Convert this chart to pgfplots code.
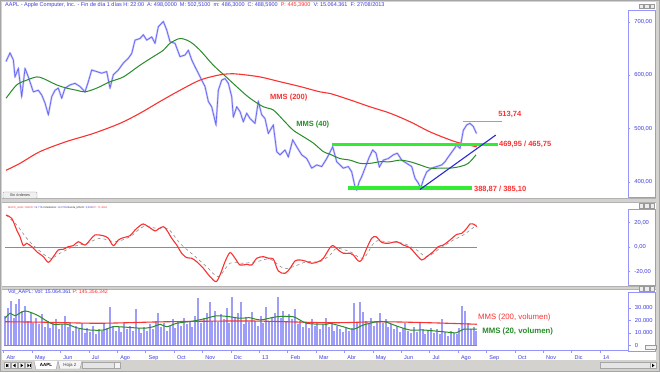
\documentclass[border=0pt]{standalone}
\usepackage{pgfplots}
\pgfplotsset{compat=1.18}
\usepackage{pgfplotstable}
\usepackage{fontspec}
\setmainfont{Liberation Sans}
\definecolor{pricec}{RGB}{100,100,245}
\definecolor{mmsg}{RGB}{40,140,40}
\definecolor{mmsr}{RGB}{250,50,50}
\definecolor{band}{RGB}{50,235,50}
\definecolor{axblue}{RGB}{150,150,250}
\definecolor{lblblue}{RGB}{60,60,225}
\definecolor{trend}{RGB}{40,40,215}
\definecolor{volc}{RGB}{158,158,248}
\definecolor{winbg}{RGB}{212,210,206}
\definecolor{sig}{RGB}{140,140,140}

\pgfplotstableread{
m p
0.085 626
0.225 642
0.342 629
0.401 597
0.518 613
0.637 560
0.754 613
0.870 597
1.046 569
1.222 572
1.342 563
1.458 548
1.574 526
1.694 560
1.810 572
1.926 576
2.046 557
2.162 576
2.338 582
2.514 585
2.690 579
2.866 569
2.982 588
3.102 610
3.278 607
3.454 604
3.630 607
3.746 576
3.863 601
4.039 610
4.215 623
4.391 632
4.511 641
4.627 666
4.803 669
4.919 676
5.039 666
5.215 672
5.331 660
5.447 691
5.623 701
5.743 685
5.859 663
6.035 660
6.211 635
6.387 638
6.504 647
6.623 629
6.739 616
6.856 604
6.975 591
7.092 579
7.208 551
7.327 541
7.479 507
7.560 572
7.680 591
7.796 594
7.912 585
8.032 560
8.088 522
8.208 541
8.324 532
8.440 513
8.560 529
8.676 519
8.852 510
8.968 551
9.088 526
9.204 519
9.320 491
9.496 507
9.616 457
9.732 451
9.908 460
10.025 447
10.180 479
10.320 466
10.496 451
10.673 444
10.849 426
11.025 432
11.201 429
11.377 444
11.588 466
11.729 438
11.845 432
11.961 426
12.137 429
12.257 419
12.373 391
12.433 385
12.525 401
12.609 410
12.725 426
12.877 447
12.996 460
13.113 454
13.229 428
13.370 441
13.546 444
13.722 451
13.863 454
14.018 441
14.194 435
14.370 429
14.486 407
14.602 398
14.687 388
14.778 404
14.898 419
15.074 426
15.250 429
15.426 432
15.542 438
15.658 447
15.835 460
15.954 469
16.070 463
16.187 497
16.306 507
16.423 510
16.539 504
16.651 491
}\price

\pgfplotstableread{
m v
0.085 557
0.461 582
0.813 591
1.165 597
1.398 594
1.870 582
2.222 576
2.574 572
2.866 569
3.278 576
3.746 588
4.215 597
4.803 619
5.271 635
5.623 647
5.859 660
6.211 669
6.563 663
6.915 647
7.384 619
7.856 596
8.324 573
8.676 557
9.144 541
9.496 535
9.849 516
10.201 497
10.553 485
10.905 473
11.257 457
11.493 452
11.845 444
12.197 441
12.549 435
12.901 435
13.254 438
13.606 438
13.958 441
14.310 438
14.662 432
15.014 426
15.366 426
15.718 426
16.070 429
16.363 435
16.634 451
}\mmsforty

\pgfplotstableread{
m v
0.085 422
0.577 435
1.282 457
2.222 476
3.158 491
4.099 510
4.803 529
5.507 551
6.211 572
6.915 591
7.620 601
8.077 603
8.324 602
9.028 597
9.732 588
10.437 579
11.141 569
11.493 566
12.197 554
12.901 541
13.606 529
14.310 513
15.014 494
15.718 479
16.070 473
16.658 466
}\mmsdos

\pgfplotstableread{
m v
0.085 26.1
0.285 23.4
0.461 13.9
0.577 8.4
0.694 1.1
0.813 3.0
0.989 0.3
1.165 -3.8
1.398 -7.9
1.574 -12.5
1.750 -7.9
1.926 -2.4
2.102 -1.9
2.278 0.3
2.454 1.1
2.630 4.3
2.866 1.6
3.042 5.7
3.218 9.8
3.511 9.2
3.687 7.1
3.863 1.1
4.039 5.7
4.215 7.6
4.451 9.2
4.627 13.9
4.803 17.4
4.919 18.8
5.095 16.6
5.331 13.1
5.447 14.7
5.623 16.6
5.743 13.9
5.919 7.1
6.095 1.6
6.271 -5.1
6.447 -8.7
6.623 -9.2
6.799 -12.0
7.032 -17.4
7.268 -24.2
7.479 -28.3
7.620 -22.9
7.796 -12.0
7.972 -4.6
8.148 -9.2
8.324 -14.7
8.560 -14.1
8.736 -14.7
8.912 -9.2
9.144 -7.9
9.320 -9.2
9.496 -9.8
9.673 -19.6
9.908 -21.5
10.085 -17.4
10.261 -11.4
10.437 -10.6
10.613 -11.4
10.849 -13.3
11.081 -12.0
11.257 -9.2
11.493 -0.5
11.609 1.1
11.785 -2.4
11.961 -5.1
12.197 -5.1
12.313 -6.5
12.489 -11.4
12.609 -10.6
12.785 -1.1
12.961 7.1
13.113 8.4
13.313 3.8
13.546 3.0
13.842 4.3
14.074 1.6
14.310 -0.6
14.486 -5.1
14.722 -10.6
14.898 -7.9
15.130 -3.8
15.306 0.3
15.482 1.6
15.718 5.7
15.954 10.3
16.130 11.1
16.306 15.2
16.423 18.8
16.563 18.5
16.658 16.6
}\macd

\pgfplotstableread{
m v
0.085 26.1
0.461 18.0
0.813 7.1
1.165 -1.1
1.634 -9.2
1.986 -5.1
2.454 0.3
2.926 3.0
3.394 7.1
3.923 4.3
4.451 8.4
4.919 16.6
5.391 15.2
5.799 14.7
6.211 3.0
6.680 -6.5
7.151 -16.1
7.560 -24.2
7.972 -13.3
8.440 -13.3
8.912 -12.0
9.380 -9.8
9.849 -17.4
10.201 -16.1
10.673 -12.0
11.141 -12.0
11.493 -6.5
11.729 -1.1
12.197 -3.8
12.665 -9.2
13.077 4.3
13.489 4.3
14.074 3.0
14.546 -2.4
14.898 -7.9
15.366 -1.1
15.835 5.7
16.187 9.8
16.658 18.0
}\signal

\pgfplotstableread{
m v
0.05 24000
0.15 30000
0.25 36000
0.35 22000
0.45 33000
0.55 37000
0.65 28000
0.75 32000
0.85 20000
0.95 26000
1.05 18000
1.15 22000
1.25 17000
1.35 25000
1.45 15000
1.55 20000
1.65 14000
1.75 18000
1.85 21000
1.95 13000
2.05 17000
2.15 24000
2.25 15000
2.35 19000
2.45 12000
2.55 16000
2.65 13000
2.75 18000
2.85 10000
2.95 14000
3.05 11000
3.15 16000
3.25 9000
3.35 13000
3.45 12000
3.55 17000
3.65 14000
3.75 31000
3.85 16000
3.95 12000
4.05 15000
4.15 11000
4.25 18000
4.35 13000
4.45 16000
4.55 12000
4.65 29000
4.75 14000
4.85 10000
4.95 15000
5.05 12000
5.15 17000
5.25 13000
5.35 20000
5.45 26000
5.55 15000
5.65 18000
5.75 12000
5.85 16000
5.95 21000
6.05 14000
6.15 19000
6.25 16000
6.35 22000
6.45 17000
6.55 20000
6.65 15000
6.75 24000
6.85 38000
6.95 18000
7.05 22000
7.15 26000
7.25 35000
7.35 20000
7.45 28000
7.55 19000
7.65 25000
7.75 21000
7.85 30000
7.95 18000
8.05 39000
8.15 22000
8.25 26000
8.35 35000
8.45 17000
8.55 23000
8.65 19000
8.75 27000
8.85 20000
8.95 16000
9.05 24000
9.15 18000
9.25 31000
9.35 19000
9.45 23000
9.55 26000
9.65 39000
9.75 22000
9.85 28000
9.95 19000
10.05 25000
10.15 21000
10.25 29000
10.35 17000
10.45 20000
10.55 15000
10.65 18000
10.75 14000
10.85 21000
10.95 16000
11.05 19000
11.15 13000
11.25 17000
11.35 22000
11.45 15000
11.55 18000
11.65 12000
11.75 16000
11.85 13000
11.95 11000
12.05 15000
12.15 12000
12.25 14000
12.35 34000
12.45 18000
12.55 35000
12.65 27000
12.75 20000
12.85 17000
12.95 22000
13.05 16000
13.15 19000
13.25 26000
13.35 18000
13.45 21000
13.55 15000
13.65 17000
13.75 13000
13.85 16000
13.95 11000
14.05 14000
14.15 18000
14.25 12000
14.35 10000
14.45 15000
14.55 11000
14.65 18000
14.75 13000
14.85 9000
14.95 12000
15.05 14000
15.15 10000
15.25 13000
15.35 9000
15.45 21000
15.55 11000
15.65 8000
15.75 12000
15.85 10000
15.95 9000
16.05 14000
16.15 32000
16.25 28000
16.35 18000
16.45 13000
16.55 15000
16.65 12000
}\vol

\pgfplotstableread{
m v
0.05 21800
0.23 25800
0.40 23800
0.75 27600
1.17 24400
1.52 19600
1.75 17000
2.22 17000
2.57 14200
3.04 12400
3.51 12400
3.86 15000
4.33 14600
4.92 13800
5.27 15000
5.51 17000
5.74 15000
6.10 17800
6.68 19600
7.15 21800
7.50 23800
7.97 23000
8.32 21800
8.68 22200
9.03 20400
9.62 23000
10.20 23000
10.67 17800
11.38 17000
11.49 17800
11.96 15000
12.31 13000
12.67 16400
13.14 19000
13.43 19000
13.84 15600
14.31 12400
14.78 12400
15.48 11000
15.95 10200
16.19 13000
16.66 13000
}\volveinte

\pgfplotstableread{
m v
0.05 19000
1.50 18600
3.39 17800
5.74 19000
8.68 19600
11.49 18200
13.25 19000
15.01 18200
16.66 17000
}\voldos

\pgfplotsset{
  panel/.style={
    scale only axis, width=626.2pt, xmin=-0.05, xmax=22,
    axis line style={draw=none},
    xtick=\empty,
    ytick pos=right, yticklabel pos=right,
    tick style={draw=axblue, thin},
    major tick length=2pt,
    tick align=outside,
    y tick label style={font=\fontsize{5.8}{6}\selectfont, text=lblblue, xshift=0.5pt},
    /pgf/number format/assume math mode=true,
  },
}

\begin{document}
\begin{tikzpicture}
% window background
\fill[winbg] (0pt,0pt) rectangle (660pt,372pt);
\fill[white] (2pt,174pt) rectangle (656pt,370pt);
\fill[white] (2pt,86pt) rectangle (656pt,170pt);
\fill[white] (2pt,12pt) rectangle (656pt,83pt);
\draw[gray!70] (0.5pt,0.5pt) rectangle (659.5pt,371.5pt);
\draw[gray!60] (2pt,174pt) -- (656pt,174pt);
\draw[gray!60] (2pt,170pt) -- (656pt,170pt);
\draw[gray!60] (2pt,86pt) -- (656pt,86pt);
\draw[gray!60] (2pt,83pt) -- (656pt,83pt);
% right axis boxes
\draw[axblue, line width=0.8pt] (628.4pt,175pt) rectangle (655pt,362pt);
\draw[axblue, line width=0.8pt] (628.4pt,87pt) rectangle (655pt,163pt);
\draw[axblue, line width=0.8pt] (628.4pt,21pt) rectangle (655pt,80pt);
% window buttons
\foreach \yy in {363.5,164,81}{
  \foreach \xx in {639,644.5,650}{
    \draw[gray!80, fill=gray!15, line width=0.3pt] (\xx pt,\yy pt) rectangle ++(4.5pt,4.5pt);
  }
}
% headers
\node[anchor=west, inner sep=0pt, font=\fontsize{5.5}{6}\selectfont] at (5pt,366.5pt)
  {\textcolor{lblblue}{AAPL - Apple Computer, Inc. - Fin de día 1 días H: 22:00\ \ A: 498,0000\ \ M: 502,5100\ \ m: 486,3000\ \ C: 488,5900\ \ }\textcolor{mmsr}{P: 445,3900}\textcolor{lblblue}{\ \ V: 15.064.361\ \ F: 27/08/2013}};
\node[anchor=west, inner sep=0pt, font=\fontsize{2.6}{3}\selectfont] at (8pt,164pt)
  {\textcolor{mmsr}{MACD\_AAPL: MACD:} \textcolor{lblblue}{15,7734} \textcolor{black!80}{MediaSIG:} \textcolor{lblblue}{16,3765} \textcolor{black!80}{Banda\_MACD:} \textcolor{lblblue}{0,0000} \textcolor{mmsr}{P: 71,4546}};
\node[anchor=west, inner sep=0pt, font=\fontsize{5.2}{6}\selectfont] at (8pt,79.5pt)
  {\textcolor{lblblue}{Vol\_AAPL: Vol: 15.064.361} \textcolor{mmsr}{P: 145.356.342}};
% Sin ordenes button
\draw[gray!80, fill=gray!12, rounded corners=0.8pt, line width=0.4pt] (3pt,173.5pt) rectangle (37pt,180pt);
\node[font=\fontsize{3.8}{4}\selectfont, text=black!75] at (20pt,176.8pt) {Sin órdenes};

% ================= PRICE PANEL =================
\begin{axis}[panel, at={(2.2pt,175pt)}, anchor=south west, height=186pt,
  ymin=371.9, ymax=720.6, ytick={400,500,600,700},
  yticklabel style={/pgf/number format/fixed, /pgf/number format/fixed zerofill, /pgf/number format/precision=2, /pgf/number format/use comma, /pgf/number format/1000 sep={}}]
\addplot[pricec!35, line width=2.0pt, line join=round] table[x=m,y=p] {\price};
\addplot[pricec, line width=0.7pt, line join=miter] table[x=m,y=p] {\price};
\addplot[mmsr, line width=1.1pt, smooth] table[x=m,y=v] {\mmsdos};
\addplot[mmsg, line width=1.0pt, smooth] table[x=m,y=v] {\mmsforty};
\addplot[band, line width=3.2pt] coordinates {(11.55,469.95) (17.41,469.95)};
\addplot[band, line width=3.2pt] coordinates {(12.13,388.87) (16.49,388.87)};
\addplot[trend, line width=1.1pt] coordinates {(14.66,386) (17.33,488)};
\addplot[axblue, line width=0.7pt] coordinates {(16.19,513.74) (17.56,513.74)};
\node[anchor=west, inner sep=0pt, text=mmsr, font=\fontsize{7.5}{8}\selectfont\bfseries] at (axis cs:9.38,557.5) {MMS (200)};
\node[anchor=west, inner sep=0pt, text=mmsg, font=\fontsize{7.5}{8}\selectfont\bfseries] at (axis cs:10.30,507) {MMS (40)};
\node[anchor=west, inner sep=0pt, text=mmsr, font=\fontsize{7.5}{8}\selectfont\bfseries] at (axis cs:17.41,527.5) {513,74};
\node[anchor=west, inner sep=0pt, text=mmsr, font=\fontsize{7.5}{8}\selectfont\bfseries] at (axis cs:17.44,471) {469,95 / 465,75};
\node[anchor=west, inner sep=0pt, text=mmsr, font=\fontsize{7.5}{8}\selectfont\bfseries] at (axis cs:16.56,387) {388,87 / 385,10};
\end{axis}

% ================= MACD PANEL =================
\begin{axis}[panel, at={(2.2pt,86pt)}, anchor=south west, height=83pt,
  ymin=-31.84, ymax=35.92, ytick={-20,0,20},
  yticklabel style={/pgf/number format/fixed, /pgf/number format/fixed zerofill, /pgf/number format/precision=2, /pgf/number format/use comma}]
\addplot[color={rgb,255:red,125;green,125;blue,255}, line width=0.9pt] coordinates {(0.05,0) (16.66,0)};
\addplot[sig, line width=0.6pt, dashed, smooth] table[x=m,y=v] {\signal};
\addplot[mmsr, line width=1.1pt, smooth] table[x=m,y=v] {\macd};
\end{axis}

% ================= VOLUME PANEL =================
\begin{axis}[panel, at={(2.2pt,22pt)}, anchor=south west, height=61pt,
  ymin=-3600, ymax=45200, ytick={0,10000,20000,30000},
  scaled y ticks=false,
  yticklabel style={/pgf/number format/fixed, /pgf/number format/precision=0, /pgf/number format/1000 sep={.}},
  xtick={0,1,...,21}, xtick pos=left,
  xticklabels={Abr,May,Jun,Jul,Ago,Sep,Oct,Nov,Dic,13,Feb,Mar,Abr,May,Jun,Jul,Ago,Sep,Oct,Nov,Dic,14},
  major tick length=2.5pt,
  x tick label style={font=\fontsize{5.5}{6}\selectfont, text=lblblue, anchor=north west, xshift=-0.5pt, yshift=0.5pt}]
\addplot[volc, ycomb, line width=2.0pt] table[x=m,y=v] {\vol};
\addplot[color={rgb,255:red,125;green,125;blue,255}, line width=0.9pt] coordinates {(0.02,0) (16.68,0)};
\addplot[mmsr, line width=1.1pt, smooth] table[x=m,y=v] {\voldos};
\addplot[mmsg, line width=1.0pt, smooth] table[x=m,y=v] {\volveinte};
\node[anchor=west, inner sep=0pt, text=mmsr, font=\fontsize{7.8}{8}\selectfont] at (axis cs:16.70,22800) {MMS (200, volumen)};
\node[anchor=west, inner sep=0pt, text=mmsg, font=\fontsize{7.8}{8}\selectfont\bfseries] at (axis cs:16.85,11600) {MMS (20, volumen)};
\end{axis}
\draw[axblue, line width=0.8pt] (2.2pt,22pt) -- (628.4pt,22pt);
\draw[gray!80, fill=gray!10, line width=0.3pt] (645pt,22.5pt) rectangle (656pt,27pt);

% ================= TAB BAR =================
\fill[winbg] (1pt,1pt) rectangle (659pt,12pt);
\foreach \xx in {4,11,18,25}{\draw[gray!70, fill=gray!10, line width=0.3pt] (\xx pt,3.5pt) rectangle ++(6pt,6pt);}
\fill[black] (6.2pt,6.5pt) -- (8.4pt,8.3pt) -- (8.4pt,4.7pt) -- cycle;
\draw[black, line width=0.6pt] (5.8pt,4.7pt) -- (5.8pt,8.3pt);
\fill[black] (13pt,6.5pt) -- (15.5pt,8.3pt) -- (15.5pt,4.7pt) -- cycle;
\fill[black] (23.2pt,6.5pt) -- (20.7pt,8.3pt) -- (20.7pt,4.7pt) -- cycle;
\fill[black] (29.6pt,6.5pt) -- (27.4pt,8.3pt) -- (27.4pt,4.7pt) -- cycle;
\draw[black, line width=0.6pt] (30pt,4.7pt) -- (30pt,8.3pt);
\draw[gray!80, fill=white, line width=0.4pt] (34pt,11pt) -- (36pt,2.5pt) -- (56pt,2.5pt) -- (58pt,11pt);
\node[font=\fontsize{4.5}{5}\selectfont\bfseries] at (46pt,6.8pt) {AAPL};
\draw[gray!80, fill=gray!8, line width=0.4pt] (58pt,11pt) -- (60pt,3pt) -- (80pt,3pt) -- (82pt,11pt);
\node[font=\fontsize{4.5}{5}\selectfont, text=black!75] at (70pt,6.8pt) {Hoja 2};
\draw[gray!70, fill=gray!20, line width=0.3pt] (82pt,3.5pt) rectangle (120pt,9.5pt);
\draw[gray!70, fill=gray!8, line width=0.3pt] (114pt,3.5pt) rectangle (120pt,9.5pt);
\draw[gray!70, fill=gray!20, line width=0.3pt] (600pt,3.5pt) rectangle (656pt,9.5pt);
\draw[gray!70, fill=gray!8, line width=0.3pt] (650pt,3.5pt) rectangle (656pt,9.5pt);
\fill[black] (654.5pt,6.5pt) -- (652pt,8.3pt) -- (652pt,4.7pt) -- cycle;
\end{tikzpicture}
\end{document}
